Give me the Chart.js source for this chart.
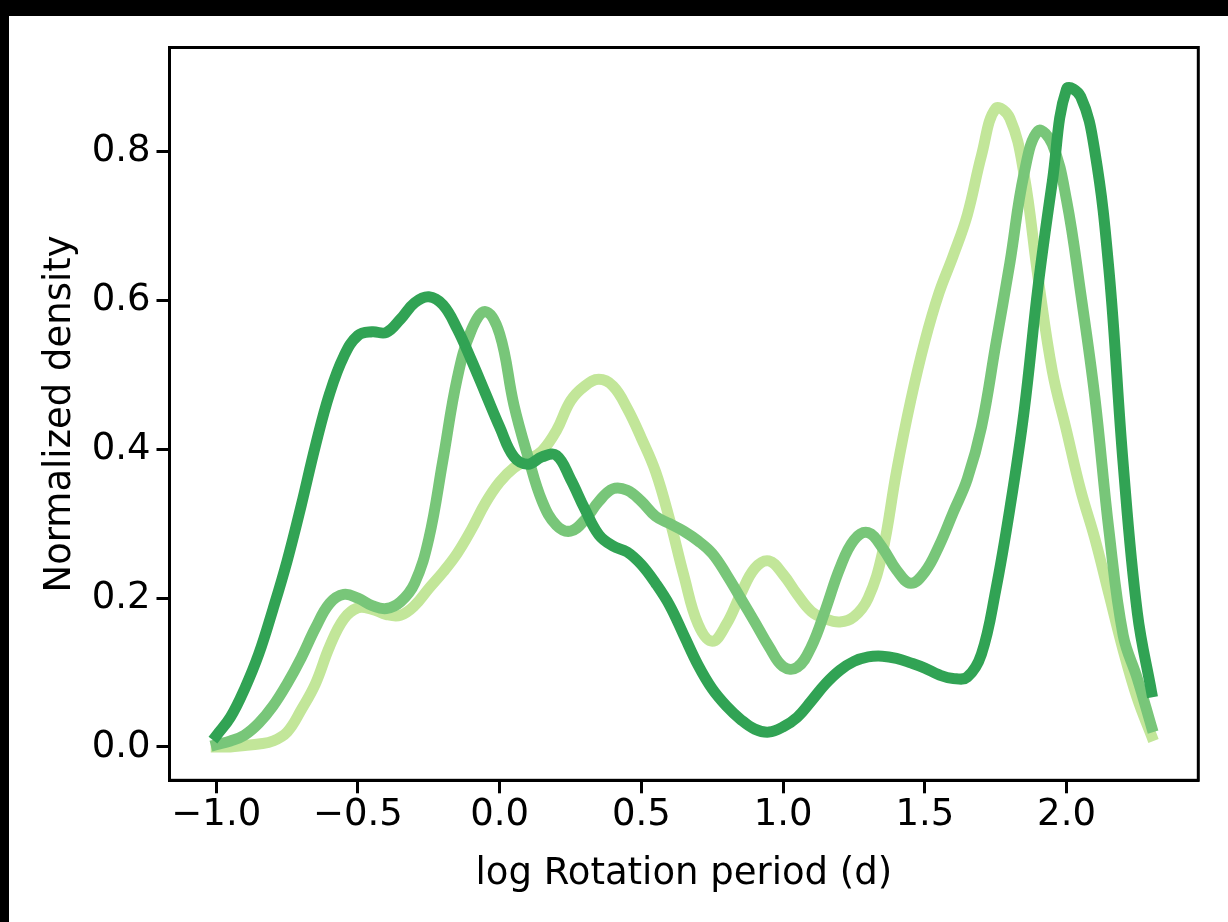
<!DOCTYPE html>
<html>
<head>
<meta charset="utf-8">
<script src="https://cdn.jsdelivr.net/npm/chart.js@4"></script>
<style>
  html, body { margin: 0; padding: 0; background: #000; }
  #wrap { position: absolute; left: 9px; top: 16px; width: 1219px; height: 906px; background: #fff; }
  canvas { display: block; }
</style>
</head>
<body>
<div id="wrap"><canvas id="chart" width="1219" height="906"></canvas></div>
<script>
// log rotation period grid (x values)
const logPeriod = [
  -1.00, -0.95, -0.90, -0.85, -0.80, -0.75, -0.70, -0.65, -0.60, -0.55,
  -0.50, -0.45, -0.40, -0.35, -0.30, -0.25, -0.20, -0.15, -0.10, -0.05,
   0.00,  0.05,  0.10,  0.15,  0.20,  0.25,  0.30,  0.35,  0.40,  0.45,
   0.50,  0.55,  0.60,  0.65,  0.70,  0.75,  0.80,  0.85,  0.90,  0.95,
   1.00,  1.05,  1.10,  1.15,  1.20,  1.25,  1.30,  1.35,  1.40,  1.45,
   1.50,  1.55,  1.60,  1.65,  1.70,  1.75,  1.80,  1.85,  1.90,  1.95,
   2.00,  2.05,  2.10,  2.15,  2.20,  2.25,  2.30
];

// normalized densities, one per curve
const densityLight = [
  0.000, 0.000, 0.002, 0.004, 0.008, 0.020, 0.050, 0.085, 0.135, 0.172,
  0.187, 0.185, 0.178, 0.177, 0.190, 0.213, 0.235, 0.260, 0.292, 0.328,
  0.356, 0.375, 0.386, 0.398, 0.425, 0.465, 0.485, 0.494, 0.485, 0.455,
  0.415, 0.370, 0.305, 0.230, 0.165, 0.142, 0.165, 0.205, 0.240, 0.250,
  0.232, 0.205, 0.182, 0.172, 0.168, 0.175, 0.200, 0.260, 0.370, 0.465,
  0.545, 0.610, 0.660, 0.715, 0.795, 0.858, 0.845, 0.770, 0.630, 0.505,
  0.425, 0.345, 0.280, 0.205, 0.130, 0.065, 0.015
];

const densityMedium = [
  0.003, 0.008, 0.016, 0.032, 0.055, 0.085, 0.120, 0.160, 0.193, 0.205,
  0.200, 0.190, 0.186, 0.195, 0.220, 0.280, 0.386, 0.495, 0.560, 0.585,
  0.555, 0.460, 0.390, 0.330, 0.298, 0.290, 0.305, 0.330, 0.347, 0.345,
  0.330, 0.310, 0.300, 0.290, 0.277, 0.260, 0.232, 0.200, 0.168, 0.135,
  0.108, 0.107, 0.135, 0.185, 0.240, 0.278, 0.288, 0.268, 0.238, 0.220,
  0.235, 0.270, 0.315, 0.360, 0.430, 0.540, 0.650, 0.770, 0.828, 0.810,
  0.735, 0.610, 0.470, 0.290, 0.150, 0.092, 0.027
];

const densityDark = [
  0.015, 0.040, 0.078, 0.125, 0.185, 0.250, 0.325, 0.405, 0.475, 0.525,
  0.553, 0.558, 0.557, 0.575, 0.597, 0.605, 0.594, 0.562, 0.520, 0.475,
  0.430, 0.390, 0.380, 0.390, 0.392, 0.360, 0.320, 0.285, 0.270, 0.262,
  0.245, 0.220, 0.190, 0.150, 0.110, 0.078, 0.055, 0.037, 0.024, 0.020,
  0.027, 0.040, 0.062, 0.085, 0.103, 0.115, 0.121, 0.122, 0.119, 0.113,
  0.106, 0.097, 0.092, 0.094, 0.125, 0.210, 0.320, 0.450, 0.620, 0.760,
  0.884, 0.874, 0.800, 0.640, 0.380, 0.180, 0.074
];

const xTicks = [-1.0, -0.5, 0.0, 0.5, 1.0, 1.5, 2.0];
const yTicks = [0.0, 0.2, 0.4, 0.6, 0.8];

const toPoints = ys => logPeriod.map((x, i) => ({ x: x, y: ys[i] }));
const fmt = v => (v < 0 ? '\u2212' : '') + Math.abs(v).toFixed(1);
const FONT = { family: 'DejaVu Sans', size: 37, lineHeight: 1.2 };

// closes the box (top and right spines)
const frame = {
  id: 'frame',
  afterDraw(chart) {
    const a = chart.chartArea, ctx = chart.ctx;
    ctx.save();
    ctx.strokeStyle = '#000';
    ctx.lineWidth = 3;
    ctx.strokeRect(a.left, a.top, a.right - a.left, a.bottom - a.top);
    ctx.restore();
  }
};

const line = (data, color) => ({
  data: toPoints(data),
  borderColor: color,
  borderWidth: 11,
  borderCapStyle: 'square',
  pointRadius: 0,
  fill: false,
  tension: 0.4
});

new Chart(document.getElementById('chart'), {
  type: 'line',
  data: {
    // first one is drawn on top
    datasets: [
      line(densityDark, '#31a354'),
      line(densityMedium, '#78c679'),
      line(densityLight, '#c2e699')
    ]
  },
  options: {
    responsive: false,
    devicePixelRatio: 1,
    animation: false,
    layout: { padding: { top: 31.5, right: 29.7, left: 0, bottom: 0 } },
    plugins: { legend: { display: false }, tooltip: { enabled: false } },
    scales: {
      x: {
        type: 'linear',
        min: -1.165,
        max: 2.465,
        afterBuildTicks: s => { s.ticks = xTicks.map(v => ({ value: v })); },
        afterFit: s => { s.height = 141.7; },
        grid: { drawOnChartArea: false, drawTicks: true, tickLength: 13, tickWidth: 3, tickColor: '#000' },
        border: { display: true, color: '#000', width: 3 },
        ticks: { color: '#000', font: FONT, padding: 0, maxRotation: 0, autoSkip: false, callback: fmt },
        title: { display: true, text: 'log Rotation period (d)', color: '#000', font: FONT, padding: { top: 0, bottom: 25 } }
      },
      y: {
        type: 'linear',
        min: -0.0448,
        max: 0.94,
        afterBuildTicks: s => { s.ticks = yTicks.map(v => ({ value: v })); },
        afterFit: s => { s.width = 160.5; },
        grid: { drawOnChartArea: false, drawTicks: true, tickLength: 13, tickWidth: 3, tickColor: '#000' },
        border: { display: true, color: '#000', width: 3 },
        ticks: { color: '#000', font: FONT, padding: 6, autoSkip: false, callback: fmt },
        title: { display: true, text: 'Normalized density', color: '#000', font: FONT, padding: { top: 29, bottom: 0 } }
      }
    }
  },
  plugins: [frame]
});
</script>
</body>
</html>
